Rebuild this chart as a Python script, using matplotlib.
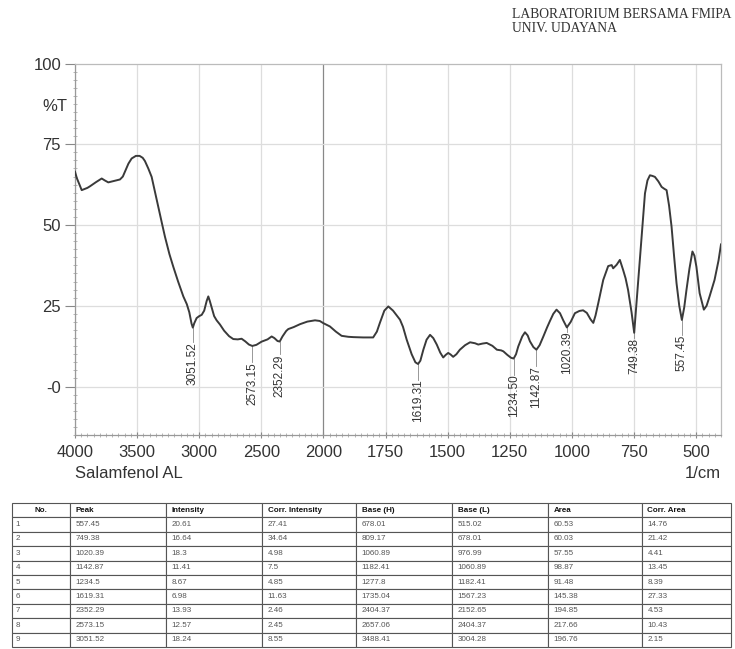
import numpy as np
import matplotlib
matplotlib.use("Agg")
import matplotlib.pyplot as plt
from matplotlib.ticker import FixedLocator, FixedFormatter

plt.rcParams['font.family'] = ['Liberation Sans', 'DejaVu Sans']

# spectrum trace (wavenumber in 1/cm, %T)
wavenumber = [
    4000, 3985, 3946, 3900, 3879, 3830, 3785, 3760, 3732, 3690, 3638, 3615, 3598,
    3570, 3544, 3510, 3480, 3455, 3437, 3410, 3383, 3355, 3330, 3300, 3276, 3240,
    3209, 3170, 3128, 3100, 3080, 3062, 3051.52, 3040, 3021, 3000, 2980, 2960,
    2940, 2927, 2915, 2900, 2880, 2860, 2833, 2800, 2760, 2726, 2690, 2659, 2630,
    2600, 2573.15, 2540, 2498, 2450, 2417, 2395, 2370, 2352.29, 2330, 2300, 2283,
    2240, 2189, 2130, 2068, 2030, 2000, 1974, 1950, 1927, 1900, 1880, 1840, 1800,
    1785, 1773, 1755, 1739, 1720, 1700, 1692, 1680, 1665, 1645, 1630, 1619.31,
    1610, 1598, 1585, 1571, 1558, 1544, 1530, 1518, 1508, 1498, 1488, 1478, 1465,
    1451, 1430, 1410, 1390, 1377, 1360, 1343, 1320, 1302, 1285, 1276, 1260, 1245,
    1234.5, 1225, 1216, 1200, 1189, 1178, 1169, 1155, 1142.87, 1130, 1115, 1100,
    1089, 1075, 1062, 1048, 1035, 1020.39, 1005, 988, 970, 955, 940, 925, 914,
    905, 894, 874, 854, 840, 834, 820, 807, 794, 784, 774, 760, 749.38, 740, 727,
    716, 706, 696, 686, 676, 666, 652, 639, 628, 619, 609, 599, 589, 579, 568,
    557.45, 548, 539, 527, 515, 507, 499, 486, 469, 458, 446, 426, 410, 400,
]
transmittance = [
    66.5, 64.5, 60.8, 61.5, 62.0, 63.3, 64.4, 63.8, 63.2, 63.6, 64.1, 65.0, 66.5,
    69.0, 70.6, 71.4, 71.4, 70.8, 69.8, 67.5, 64.9, 60.0, 55.6, 50.5, 46.4, 41.0,
    37.1, 32.5, 27.9, 25.5, 23.0, 19.5, 18.24, 19.6, 21.2, 21.8, 22.2, 23.5,
    26.5, 27.9, 26.5, 24.5, 21.8, 20.5, 19.2, 17.3, 15.6, 14.7, 14.6, 14.8, 14.0,
    13.0, 12.57, 12.9, 13.9, 14.6, 15.5, 15.0, 14.1, 13.93, 15.5, 17.2, 17.8,
    18.4, 19.3, 20.1, 20.5, 20.3, 19.6, 18.6, 17.0, 15.7, 15.4, 15.3, 15.2, 15.2,
    17.0, 19.7, 23.5, 24.8, 23.5, 21.5, 20.7, 18.5, 14.5, 10.0, 7.5, 6.98,
    8.0, 11.4, 14.5, 16.0, 15.0, 13.0, 10.5, 9.0, 9.8, 10.4, 9.9, 9.2, 10.0,
    11.4, 12.8, 13.7, 13.4, 13.0, 13.3, 13.5, 12.6, 11.4, 11.2, 10.9, 9.8, 8.9,
    8.67, 10.0, 12.4, 15.5, 16.8, 15.8, 14.0, 12.2, 11.41, 12.8, 15.5, 18.3,
    20.2, 22.5, 23.8, 22.7, 20.5, 18.3, 20.0, 22.7, 23.4, 23.6, 22.8, 20.8, 19.7,
    22.0, 25.8, 33.0, 37.3, 37.6, 36.6, 37.7, 39.2, 36.1, 33.5, 29.9, 23.0, 16.64, 26.0, 39.2,
    50.0, 59.8, 63.8, 65.4, 65.2, 64.9, 63.5, 61.8, 61.2, 60.8, 56.0, 49.5, 40.5, 32.0, 25.0,
    20.61, 24.5, 29.9, 36.5, 41.8, 40.5, 37.1, 28.9, 23.8, 25.0, 27.9, 33.0, 39.0, 44.0,
]

# peak table
table_header = ["No.", "Peak", "Intensity", "Corr. Intensity", "Base (H)",
                "Base (L)", "Area", "Corr. Area"]
peak_no = [1, 2, 3, 4, 5, 6, 7, 8, 9]
peak = [557.45, 749.38, 1020.39, 1142.87, 1234.5, 1619.31, 2352.29, 2573.15, 3051.52]
intensity = [20.61, 16.64, 18.3, 11.41, 8.67, 6.98, 13.93, 12.57, 18.24]
corr_intensity = [27.41, 34.64, 4.98, 7.5, 4.85, 11.63, 2.46, 2.45, 8.55]
base_h = [678.01, 809.17, 1060.89, 1182.41, 1277.8, 1735.04, 2404.37, 2657.06, 3488.41]
base_l = [515.02, 678.01, 976.99, 1060.89, 1182.41, 1567.23, 2152.65, 2404.37, 3004.28]
area = [60.53, 60.03, 57.55, 98.87, 91.48, 145.38, 194.85, 217.66, 196.76]
corr_area = [14.76, 21.42, 4.41, 13.45, 8.39, 27.33, 4.53, 10.43, 2.15]

# space (in %T) left between each dip and its label
label_gap = [4.6, 1.6, 1.3, 5.2, 5.0, 4.8, 4.0, 4.9, 4.6]

x_major = [4000, 3500, 3000, 2500, 2000, 1750, 1500, 1250, 1000, 750, 500]
y_major = [100, 75, 50, 25, 0]
y_labels = ["100", "75", "50", "25", "-0"]


# wavenumber axis is twice as stretched below 2000 1/cm
def fwd(x):
    x = np.asarray(x, dtype=float)
    return np.where(x >= 2000, x, 2 * x - 2000)


def inv(y):
    y = np.asarray(y, dtype=float)
    return np.where(y >= 2000, y, (y + 2000) / 2)


fig = plt.figure(figsize=(7.35, 6.49), dpi=100)
ax = fig.add_axes([75 / 735, 1 - 435 / 649, (721 - 75) / 735, (435 - 63.5) / 649])
ax.set_xscale('function', functions=(fwd, inv))
ax.set_xlim(4000, 400)
ax.set_ylim(-15, 100)

ink = '#333333'
for v in x_major:
    ax.axvline(v, color='#888888' if v == 2000 else '#dddddd', lw=0.9, zorder=0)
for v in y_major[1:]:
    ax.axhline(v, color='#dddddd', lw=0.9, zorder=0)

ax.plot(wavenumber, transmittance, color='#3a3a3a', lw=1.4, zorder=3)

for p, t, g in zip(peak, intensity, label_gap):
    ax.plot([p, p], [t, t - g], color='#888888', lw=0.6, zorder=2)
    ax.text(p, t - g, '%.2f' % p, rotation=90, ha='center', va='top',
            fontsize=8.5, color=ink, zorder=4)

ax.xaxis.set_major_locator(FixedLocator(x_major))
ax.xaxis.set_major_formatter(FixedFormatter([str(v) for v in x_major]))
minor_x = list(np.arange(4000, 2000, -50)) + list(np.arange(2000, 399, -25))
ax.xaxis.set_minor_locator(FixedLocator(minor_x))
ax.yaxis.set_major_locator(FixedLocator(y_major))
ax.yaxis.set_major_formatter(FixedFormatter(y_labels))
ax.yaxis.set_minor_locator(FixedLocator(np.arange(-15, 100.1, 2.5)))

ax.tick_params(axis='both', which='major', labelsize=12, colors='#888888',
               labelcolor=ink, width=0.8)
ax.tick_params(axis='x', which='major', length=4, pad=5, direction='inout')
ax.tick_params(axis='y', which='major', length=7, pad=3)
ax.tick_params(axis='both', which='minor', length=3, width=0.6, colors='#aaaaaa',
               direction='inout')

for side in ['top', 'right']:
    ax.spines[side].set_color('#bbbbbb')
for side in ['left', 'bottom']:
    ax.spines[side].set_color('#999999')
for s in ax.spines.values():
    s.set_linewidth(0.9)

ax.text(-0.012, 86.7, '%T', transform=ax.get_yaxis_transform(), ha='right',
        va='center', fontsize=12, color=ink)

fig.text(75 / 735, 1 - 473 / 649, 'Salamfenol AL', ha='left', va='center',
         fontsize=12, color=ink)
fig.text(721 / 735, 1 - 473 / 649, '1/cm', ha='right', va='center',
         fontsize=12, color=ink)

fig.text(512 / 735, 1 - 14 / 649, 'LABORATORIUM BERSAMA FMIPA', ha='left',
         va='center', fontsize=9.8, family='Liberation Serif', color='#333333')
fig.text(512 / 735, 1 - 29 / 649, 'UNIV. UDAYANA', ha='left',
         va='center', fontsize=9.8, family='Liberation Serif', color='#333333')

# peak table below the spectrum
rows = []
for i in range(len(peak)):
    rows.append([str(peak_no[i]), str(peak[i]), str(intensity[i]), str(corr_intensity[i]),
                 str(base_h[i]), str(base_l[i]), str(area[i]), str(corr_area[i])])

tax = fig.add_axes([12 / 735, 1 - 647 / 649, (731 - 12) / 735, (647 - 503) / 649])
tax.axis('off')
col_px = [58, 96, 96, 94, 96, 96, 94, 89]
col_w = [c / sum(col_px) for c in col_px]
tbl = tax.table(cellText=rows, colLabels=table_header, colWidths=col_w,
                cellLoc='left', colLoc='left', bbox=[0, 0, 1, 1])
tbl.auto_set_font_size(False)
for (r, c), cell in tbl.get_celld().items():
    cell.set_edgecolor('#555555')
    cell.set_linewidth(0.8)
    cell.PAD = 0.06
    txt = cell.get_text()
    txt.set_fontsize(5.8)
    if r == 0:
        txt.set_color('#111111')
        txt.set_fontweight('bold')
    else:
        txt.set_color('#555555')
    if r == 0 and c == 0:
        txt.set_ha('center')
        cell._loc = 'center'

fig.savefig('out.png', dpi=100)
